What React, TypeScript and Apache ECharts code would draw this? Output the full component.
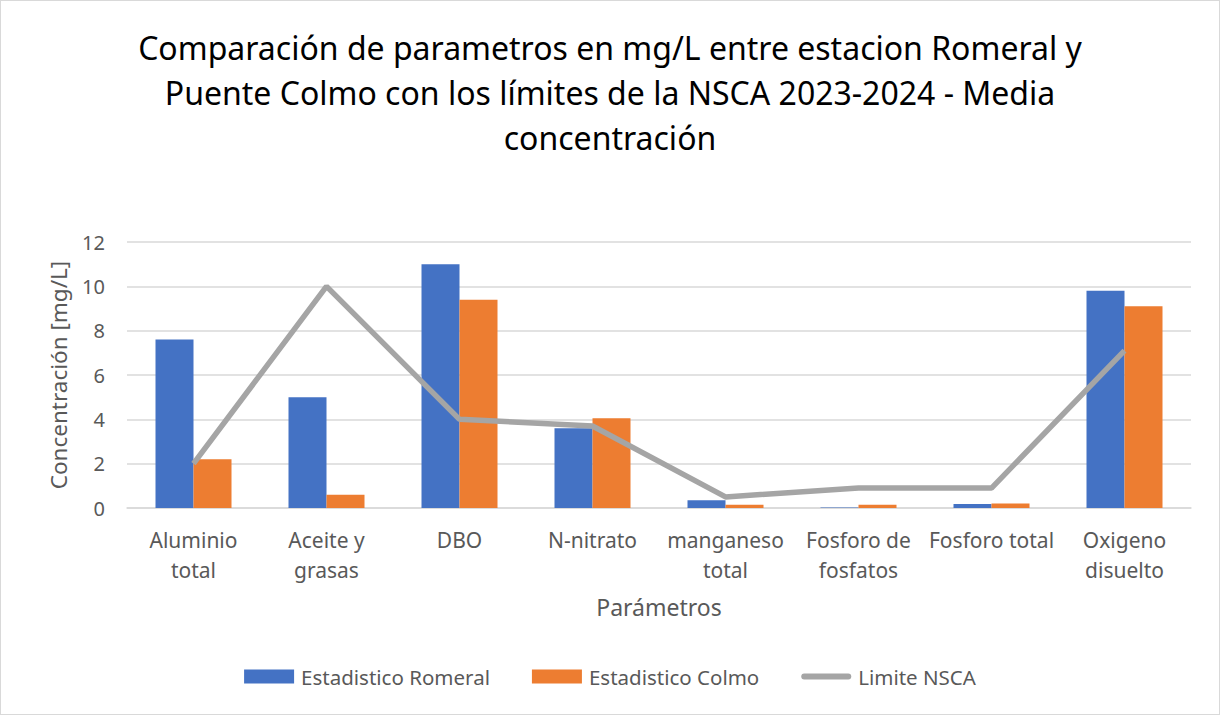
import React, { useEffect, useRef } from "react";
import * as echarts from "echarts";

const categories = [
  "Aluminio\ntotal",
  "Aceite y\ngrasas",
  "DBO",
  "N-nitrato",
  "manganeso\ntotal",
  "Fosforo de\nfosfatos",
  "Fosforo total",
  "Oxigeno\ndisuelto",
];
const romeral = [7.6, 5.0, 11.0, 3.6, 0.35, 0.02, 0.18, 9.8];
const colmo = [2.2, 0.6, 9.4, 4.05, 0.15, 0.15, 0.2, 9.1];
const limite = [2, 10, 4, 3.7, 0.5, 0.9, 0.9, 7.1];

const FONT = "'Noto Sans', 'Open Sans', sans-serif";
const TXT = "#595959";

export default function App() {
  const ref = useRef<HTMLDivElement>(null);
  useEffect(() => {
    if (!ref.current) return;
    const chart = echarts.init(ref.current, undefined, { renderer: "svg" });
    chart.setOption({
      animation: false,
      backgroundColor: "#ffffff",
      textStyle: { fontFamily: FONT, color: TXT },
      title: {
        text:
          "Comparación de parametros en mg/L entre estacion Romeral y\nPuente Colmo con los límites de la NSCA 2023-2024 - Media\nconcentración",
        left: "center",
        top: 19,
        textStyle: {
          fontFamily: FONT,
          fontSize: 32,
          fontWeight: "normal",
          color: "#000000",
          lineHeight: 45,
        },
      },
      grid: { left: 126, right: 28, top: 241, bottom: 206 },
      legend: {
        bottom: 22,
        left: "center",
        itemWidth: 50,
        itemHeight: 14,
        itemGap: 42,
        textStyle: {
          fontFamily: FONT,
          fontSize: 20.5,
          color: TXT,
          padding: [0, 0, 0, 2],
        },
        data: [
          { name: "Estadistico Romeral", icon: "rect" },
          { name: "Estadistico Colmo", icon: "rect" },
          {
            name: "Limite NSCA",
            icon: "path://M3,0 L47,0 A3,3 0 0 1 47,6 L3,6 A3,3 0 0 1 3,0 Z",
          },
        ],
      },
      xAxis: {
        type: "category",
        data: categories,
        name: "Parámetros",
        nameLocation: "middle",
        nameGap: 87,
        nameTextStyle: { fontFamily: FONT, fontSize: 23, color: TXT },
        axisTick: { show: false },
        axisLine: { lineStyle: { color: "#D9D9D9", width: 1.5 } },
        axisLabel: {
          fontFamily: FONT,
          fontSize: 21,
          color: TXT,
          lineHeight: 30,
          margin: 17,
          interval: 0,
        },
      },
      yAxis: {
        type: "value",
        min: 0,
        max: 12,
        interval: 2,
        name: "Concentración [mg/L]",
        nameLocation: "middle",
        nameGap: 57,
        nameTextStyle: { fontFamily: FONT, fontSize: 22.5, color: TXT },
        axisLabel: { fontFamily: FONT, fontSize: 20, color: TXT, margin: 22 },
        splitLine: { lineStyle: { color: "#D9D9D9", width: 1.5 } },
        axisLine: { show: false },
        axisTick: { show: false },
      },
      series: [
        {
          name: "Estadistico Romeral",
          type: "bar",
          data: romeral,
          barWidth: 38,
          barGap: "0%",
          itemStyle: { color: "#4472C4" },
        },
        {
          name: "Estadistico Colmo",
          type: "bar",
          data: colmo,
          barWidth: 38,
          barGap: "0%",
          itemStyle: { color: "#ED7D31" },
        },
        {
          name: "Limite NSCA",
          type: "line",
          data: limite,
          symbol: "none",
          lineStyle: { color: "#A5A5A5", width: 5.5 },
          itemStyle: { color: "#A5A5A5" },
        },
      ],
    });
    return () => chart.dispose();
  }, []);
  return (
    <div
      ref={ref}
      style={{
        position: "absolute",
        left: 0,
        top: 0,
        width: 1220,
        height: 715,
        boxSizing: "border-box",
        border: "1px solid #D9D9D9",
      }}
    />
  );
}
